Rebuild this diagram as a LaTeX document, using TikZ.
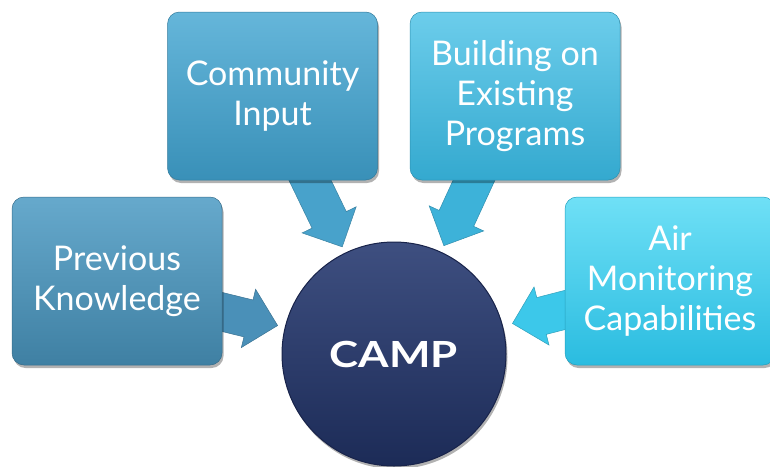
\documentclass[tikz,border=0pt]{standalone}
\usepackage{fontspec}
\usepackage{graphicx}
\setmainfont{Lato}
\usetikzlibrary{calc,shadows,backgrounds}
\definecolor{pkTop}{HTML}{66A9CC}\definecolor{pkBot}{HTML}{3F80A3}\definecolor{pkArr}{HTML}{4A90B8}
\definecolor{ciTop}{HTML}{65B6DA}\definecolor{ciBot}{HTML}{3990B8}\definecolor{ciArr}{HTML}{48A2CB}
\definecolor{beTop}{HTML}{6CCDEB}\definecolor{beBot}{HTML}{34A9CF}\definecolor{beArr}{HTML}{3DB2D9}
\definecolor{amTop}{HTML}{6FE0F6}\definecolor{amBot}{HTML}{2ABCE0}\definecolor{amArr}{HTML}{3CC8EA}
\definecolor{cpTop}{HTML}{3E4F80}\definecolor{cpBot}{HTML}{1C2B57}\definecolor{cpEdge}{HTML}{18234A}
\newcommand\camparrow[4]{% #1 start coord, #2 length, #3 colour, #4 prefix
  \coordinate (#4-back) at ($(#1)!-14pt!(camp.center)$);
  \coordinate (#4-tip) at ($(#1)!#2!(camp.center)$);
  \coordinate (#4-base) at ($(#4-tip)!30pt!(#4-back)$);
  \filldraw[fill=#3, draw=#3!80!black, line width=0.5pt, line join=miter]
    ($(#4-back)!19pt!90:(#4-tip)$) -- ($(#4-base)!19pt!90:(#4-tip)$) -- ($(#4-base)!30pt!90:(#4-tip)$)
    -- (#4-tip) -- ($(#4-base)!30pt!-90:(#4-tip)$) -- ($(#4-base)!19pt!-90:(#4-tip)$)
    -- ($(#4-back)!19pt!-90:(#4-tip)$) -- cycle;
}
\tikzset{
  srcbox/.style n args={2}{rectangle, rounded corners=12pt, minimum width=210pt,
    minimum height=168pt, top color=#1, bottom color=#2, draw=#2!85!black,
    line width=0.5pt, text=white, align=center,
    font=\fontsize{34}{40}\selectfont,
    drop shadow={shadow xshift=1.5pt, shadow yshift=-3pt, opacity=0.3, fill=black}},
  hub/.style={circle, minimum size=224pt, inner sep=0pt, top color=cpTop,
    bottom color=cpBot, draw=cpEdge, line width=1pt, text=white,
    drop shadow={shadow xshift=1.5pt, shadow yshift=-3pt, opacity=0.3, fill=black}}
}
\begin{document}
\begin{tikzpicture}[x=1pt,y=-1pt]
\useasboundingbox (0,0) rectangle (770,466);
\node[srcbox={pkTop}{pkBot}] (prev) at (117,281) {Previous\\Knowledge};
\node[srcbox={ciTop}{ciBot}] (comm) at (272.5,96) {Community\\Input};
\node[srcbox={beTop}{beBot}] (build) at (515,96) {Building on\\Existing\\Programs};
\node[srcbox={amTop}{amBot}] (air) at (670,281) {Air\\Monitoring\\Capabilities};
\node[hub] (camp) at (394,354) {\scalebox{1.22}[1]{\fontsize{36}{40}\selectfont\bfseries CAMP}};
\coordinate (prevstart) at ($(prev.east)+(0,31)$);
\coordinate (commstart) at ($(comm.south)+(37.5,0)$);
\coordinate (buildstart) at ($(build.south)+(-41,0)$);
\coordinate (airstart) at ($(air.west)+(0,29)$);
\begin{pgfonlayer}{background}
\camparrow{prevstart}{57pt}{pkArr}{pa}
\camparrow{commstart}{74pt}{ciArr}{ca}
\camparrow{buildstart}{72pt}{beArr}{ba}
\camparrow{airstart}{54pt}{amArr}{aa}
\end{pgfonlayer}
\end{tikzpicture}
\end{document}
